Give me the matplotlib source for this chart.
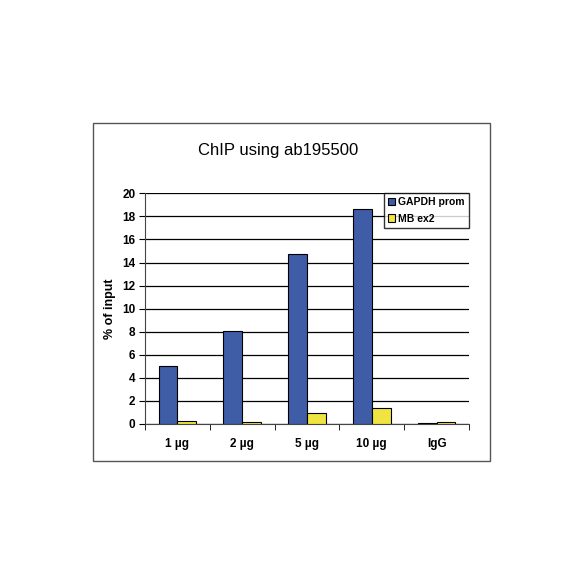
import matplotlib.pyplot as plt
from matplotlib.patches import Rectangle
import numpy as np

plt.rcParams['font.family'] = ['Liberation Sans', 'DejaVu Sans']

categories = ['1 µg', '2 µg', '5 µg', '10 µg', 'IgG']
gapdh_prom = [5.0, 8.1, 14.7, 18.6, 0.06]
mb_ex2 = [0.3, 0.2, 0.95, 1.4, 0.13]
y_ticks = [0, 2, 4, 6, 8, 10, 12, 14, 16, 18, 20]

fig = plt.figure(figsize=(5.84, 5.84), dpi=100)

# outer chart frame
fig.patches.append(Rectangle((0.159, 0.2106), 0.680, 0.5788, transform=fig.transFigure,
                             fill=False, edgecolor='#555555', linewidth=1.0))

ax = fig.add_axes([0.2483, 0.274, 0.5548, 0.395])
x = np.arange(len(categories))
w = 0.29
ax.bar(x - w / 2, gapdh_prom, w, color='#3E5DA6', edgecolor='black', linewidth=0.8,
       label='GAPDH prom', zorder=3)
ax.bar(x + w / 2, mb_ex2, w, color='#F0E442', edgecolor='black', linewidth=0.8,
       label='MB ex2', zorder=3)

ax.set_xlim(-0.5, len(categories) - 0.5)
ax.set_ylim(0, 20)
ax.set_yticks(y_ticks)
ax.set_yticklabels([str(t) for t in y_ticks], fontsize=8.5, fontweight='bold')
ax.yaxis.grid(True, color='black', linewidth=0.9, zorder=0)
ax.set_axisbelow(True)

# category labels centered, ticks at group boundaries
ax.set_xticks(x)
ax.set_xticklabels(categories, fontsize=8.5, fontweight='bold')
ax.tick_params(axis='x', length=0, pad=10)
ax.set_xticks(np.arange(len(categories) + 1) - 0.5, minor=True)
ax.tick_params(axis='x', which='minor', length=4, direction='out')
ax.tick_params(axis='y', length=4, direction='out', pad=3)

for s in ['top', 'right']:
    ax.spines[s].set_visible(False)
ax.spines['left'].set_color('#444444')
ax.spines['bottom'].set_color('#444444')

ax.set_ylabel('% of input', fontsize=9, fontweight='bold', labelpad=4)
fig.text(0.476, 0.743, 'ChIP using ab195500', fontsize=12, ha='center', va='center')

leg = ax.legend(loc='upper right', bbox_to_anchor=(1.0, 1.0), fontsize=7.5, frameon=True,
                fancybox=False, edgecolor='black', handlelength=0.7, handleheight=0.7,
                handletextpad=0.3, borderpad=0.4, labelspacing=0.6, borderaxespad=0)
for t in leg.get_texts():
    t.set_fontweight('bold')
leg.get_frame().set_linewidth(1.0)

plt.savefig('out.png', dpi=100)
plt.close()
